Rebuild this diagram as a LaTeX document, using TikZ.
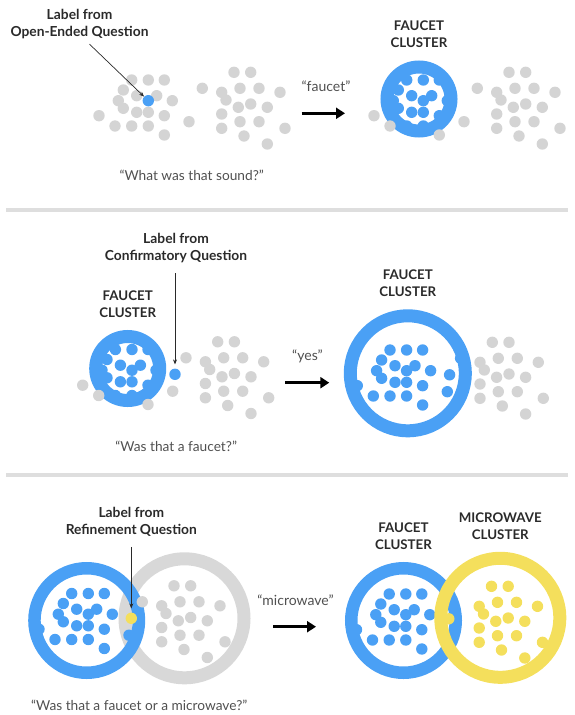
\documentclass[tikz,border=0pt]{standalone}
\usepackage{fontspec}
\setmainfont{Lato}
\usepackage{tikz}
\usetikzlibrary{arrows.meta, positioning}
\definecolor{dotblue}{HTML}{4AA0F5}
\definecolor{dotgray}{HTML}{D4D4D4}
\definecolor{dotyellow}{HTML}{F4DF5C}
\definecolor{ringgray}{HTML}{D8D8D8}
\definecolor{inkdark}{HTML}{2A2A2A}
\definecolor{inkgray}{HTML}{505050}
\definecolor{rulegray}{HTML}{DEDEDE}

% dot positions of one cluster, before any shift
\newcommand{\coreDots}{131.7/80, 148.3/80, 164.3/80, 123.3/90, 136.7/95.7, 156.7/95.7, 118.3/100.7, 172.3/100.7, 123.3/108.3, 136.7/112.3, 148.3/112.3, 164.3/115.7, 131.7/126, 148.3/126}
\newcommand{\rimDots}{99/115.7, 115/126, 164.3/135, 189/121.7}
\newcommand{\otherDots}{234/72.3, 250.7/72.3, 221.7/92.3, 240/88.3, 259/88.3, 280/92.3, 226/100, 238.3/107.3, 250.7/104, 267.3/107.3, 221.7/114, 240/121.7, 259/121.7, 221.7/128.3, 244/136, 285/128.3, 267.3/144}
\newcommand{\dotr}{5.7}

\begin{document}
\begin{tikzpicture}[
    x=1pt, y=-1pt,
    every node/.style={font=\fontsize{13}{17}\selectfont},
    callout/.style={font=\fontsize{13.8}{17.3}\selectfont\bfseries, text=inkdark, align=center},
    tag/.style={font=\fontsize{13.3}{17}\selectfont\bfseries, text=inkdark, align=center},
    question/.style={font=\fontsize{13.7}{16}\selectfont, text=inkgray},
    answer/.style={font=\fontsize{14}{16}\selectfont, text=inkgray},
    seed/.style={circle, fill=#1, minimum size=11.4pt, inner sep=0pt},
    ringsmall/.style={circle, draw=dotblue, fill=white, line width=13pt, minimum size=64pt, inner sep=0pt},
    ringlarge/.style={circle, draw=dotblue, fill=white, line width=13pt, minimum size=115pt, inner sep=0pt},
    ringmid/.style={circle, draw=dotblue, line width=12.5pt, minimum size=104.5pt, inner sep=0pt},
    ringwide/.style={circle, draw=#1, line width=13pt, minimum size=119pt, inner sep=0pt},
    rule/.style={line width=4.5pt, draw=rulegray},
    pointer/.style={-{Stealth[length=5pt, width=4pt]}, line width=0.7pt, draw=inkdark},
    arrow/.style={-{Triangle[length=9pt, width=11pt]}, line width=3pt, draw=black}
]
    \useasboundingbox (0,0) rectangle (574,715);

    % separators
    \draw[rule] (6,210) -- (568,210);
    \draw[rule] (6,475) -- (568,475);

    % panel 1: open-ended question
    \foreach \x/\y in \coreDots \fill[dotgray] (\x,\y) circle[radius=\dotr];
    \foreach \x/\y in \rimDots \fill[dotgray] (\x,\y) circle[radius=\dotr];
    \fill[dotgray] (202.3,88.3) circle[radius=\dotr];
    \foreach \x/\y in \otherDots \fill[dotgray] (\x,\y) circle[radius=\dotr];
    \node[seed=dotblue] (seed1) at (148.3,100.7) {};
    \node[callout] (lab1) at (79.5,23.7) {Label from\\Open-Ended Question};
    \draw[pointer] ([xshift=10pt, yshift=-2pt]lab1.south) -- (seed1);
    \node[question] (ask1) at (191.7,175) {“What was that sound?”};
    \node[answer] (say1) at (326,86.7) {“faucet”};
    \coordinate (go1a) at (301.7,113.3);
    \coordinate (go1b) at (345,113.3);
    \draw[arrow] (go1a) -- (go1b);

    \begin{scope}[shift={(275,0)}]
        \node[ringsmall] (faucet1) at (144,99) {};
        \foreach \x/\y in \coreDots \fill[dotblue] (\x,\y) circle[radius=\dotr];
        \fill[dotblue] (148.3,100.7) circle[radius=\dotr];
        \foreach \x/\y in \rimDots \fill[dotgray] (\x,\y) circle[radius=\dotr];
        \fill[dotgray] (202.3,88.3) circle[radius=\dotr];
        \foreach \x/\y in \otherDots \fill[dotgray] (\x,\y) circle[radius=\dotr];
    \end{scope}
    \node[tag, above=9pt of faucet1] (tag1) {FAUCET\\CLUSTER};

    % panel 2: confirmatory question
    \begin{scope}[shift={(-16.3,269.5)}]
        \node[ringsmall] (faucet2) at (144,99) {};
        \foreach \x/\y in \coreDots \fill[dotblue] (\x,\y) circle[radius=\dotr];
        \fill[dotblue] (148.3,100.7) circle[radius=\dotr];
        \foreach \x/\y in \rimDots \fill[dotgray] (\x,\y) circle[radius=\dotr];
        \fill[dotgray] (202.3,88.3) circle[radius=\dotr];
        \foreach \x/\y in \otherDots \fill[dotgray] (\x,\y) circle[radius=\dotr];
        \node[seed=dotblue] (seed2) at (191.3,104.8) {};
    \end{scope}
    \node[tag, above=9pt of faucet2] (tag2) {FAUCET\\CLUSTER};
    \node[callout] (lab2) at (176,247.7) {Label from\\Confirmatory Question};
    \draw[pointer, shorten <=7pt, shorten >=4pt] (seed2 |- lab2.south) -- (seed2.north);
    \node[question] (ask2) at (176.2,446.7) {“Was that a faucet?”};
    \node[answer] (say2) at (307.5,356.7) {“yes”};
    \coordinate (go2a) at (285,382.7);
    \coordinate (go2b) at (329.3,382.7);
    \draw[arrow] (go2a) -- (go2b);

    \begin{scope}[shift={(258.3,270)}]
        \node[ringlarge] (faucet3) at (149.5,103.3) {};
        \foreach \x/\y in \coreDots \fill[dotblue] (\x,\y) circle[radius=\dotr];
        \foreach \x/\y in \rimDots \fill[dotblue] (\x,\y) circle[radius=\dotr];
        \fill[dotblue] (148.3,100.7) circle[radius=\dotr];
        \fill[dotblue] (191.3,104.8) circle[radius=\dotr];
        \fill[dotblue] (202.3,88.3) circle[radius=\dotr];
        \foreach \x/\y in \otherDots \fill[dotgray] (\x,\y) circle[radius=\dotr];
    \end{scope}
    \node[tag, above=9pt of faucet3] (tag3) {FAUCET\\CLUSTER};

    % panel 3: refinement question
    \begin{scope}[shift={(-60,513.5)}]
        \node[ringwide=ringgray] (other4) at (244.5,104.8) {};
        \node[ringmid] (faucet4) at (146.7,107) {};
        \foreach \x/\y in \coreDots \fill[dotblue] (\x,\y) circle[radius=\dotr];
        \foreach \x/\y in \rimDots \fill[dotblue] (\x,\y) circle[radius=\dotr];
        \fill[dotblue] (148.3,100.7) circle[radius=\dotr];
        \fill[dotgray] (202.3,88.3) circle[radius=\dotr];
        \foreach \x/\y in \otherDots \fill[dotgray] (\x,\y) circle[radius=\dotr];
        \node[seed=dotyellow] (seed3) at (191.3,104.8) {};
    \end{scope}
    \node[callout] (lab3) at (131.3,521.7) {Label from\\Refinement Question};
    \draw[pointer, shorten <=7pt, shorten >=4pt] (seed3 |- lab3.south) -- (seed3.north);
    \node[question] (ask3) at (139.2,705.5) {“Was that a faucet or a microwave?”};
    \node[answer] (say3) at (295.5,600) {“microwave”};
    \coordinate (go3a) at (273,626.7);
    \coordinate (go3b) at (316,626.7);
    \draw[arrow] (go3a) -- (go3b);

    \begin{scope}[shift={(257.5,514)}]
        \node[ringmid] (faucet5) at (146,106.5) {};
        \foreach \x/\y in \coreDots \fill[dotblue] (\x,\y) circle[radius=\dotr];
        \foreach \x/\y in \rimDots \fill[dotblue] (\x,\y) circle[radius=\dotr];
        \fill[dotblue] (148.3,100.7) circle[radius=\dotr];
        \node[ringwide=dotyellow] (micro5) at (242.8,103.8) {};
        \foreach \x/\y in \otherDots \fill[dotyellow] (\x,\y) circle[radius=\dotr];
        \fill[dotyellow] (191.3,104.8) circle[radius=\dotr];
    \end{scope}
    \node[tag, above=9pt of faucet5] (tag5) {FAUCET\\CLUSTER};
    \node[tag, above=9pt of micro5] (tag6) {MICROWAVE\\CLUSTER};
\end{tikzpicture}
\end{document}
